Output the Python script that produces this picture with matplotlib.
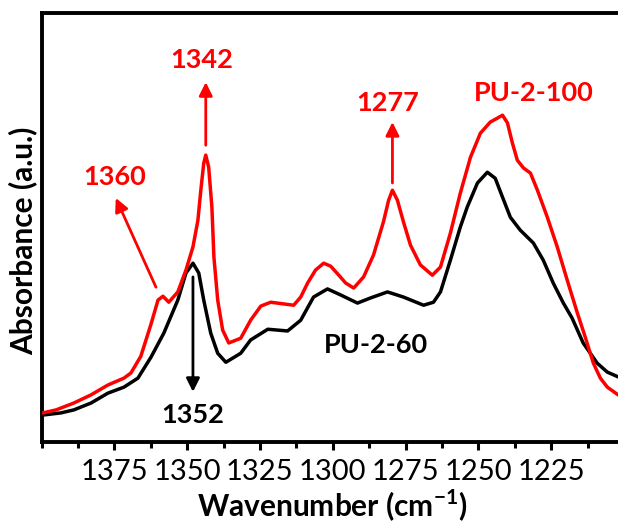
import numpy as np
import matplotlib
matplotlib.use("Agg")
import matplotlib.pyplot as plt
from matplotlib.ticker import MultipleLocator

plt.rcParams["font.family"] = ["Lato", "DejaVu Sans"]
plt.rcParams["mathtext.fontset"] = "custom"
plt.rcParams["mathtext.rm"] = "Lato"
plt.rcParams["mathtext.bf"] = "Lato:bold"

# FTIR spectra, 1400-1200 cm^-1 region (absorbance, arbitrary units)
wn_100 = [1399.5, 1395.0, 1388.9, 1383.0, 1377.2, 1371.7, 1369.3, 1365.9, 1362.4,
          1360.0, 1358.3, 1356.3, 1353.2, 1350.4, 1348.0, 1346.3, 1345.3, 1344.3,
          1343.6, 1342.6, 1341.5, 1340.8, 1339.5, 1337.8, 1335.7, 1331.6, 1328.2,
          1324.7, 1321.3, 1316.8, 1313.4, 1311.0, 1308.6, 1305.9, 1303.1, 1300.7,
          1298.3, 1295.6, 1292.8, 1289.4, 1286.0, 1282.6, 1280.8, 1279.5, 1277.8,
          1275.7, 1273.3, 1269.9, 1265.8, 1263.0, 1259.6, 1256.2, 1252.7, 1249.3,
          1245.9, 1243.5, 1241.7, 1240.0, 1238.3, 1236.6, 1234.5, 1232.1, 1229.7,
          1226.3, 1222.9, 1219.5, 1216.0, 1213.3, 1210.5, 1208.1, 1205.7, 1202.0,
          1200.0]
abs_100 = [0.068, 0.075, 0.091, 0.110, 0.133, 0.149, 0.161, 0.200, 0.275,
           0.331, 0.340, 0.326, 0.350, 0.401, 0.455, 0.517, 0.587, 0.650,
           0.669, 0.641, 0.548, 0.431, 0.331, 0.261, 0.231, 0.242, 0.284,
           0.317, 0.326, 0.322, 0.319, 0.338, 0.371, 0.401, 0.417, 0.410,
           0.392, 0.371, 0.359, 0.385, 0.436, 0.513, 0.564, 0.587, 0.564,
           0.513, 0.459, 0.413, 0.389, 0.408, 0.487, 0.580, 0.664, 0.720,
           0.746, 0.755, 0.762, 0.744, 0.697, 0.657, 0.639, 0.627, 0.587,
           0.524, 0.455, 0.378, 0.301, 0.245, 0.184, 0.149, 0.128, 0.110,
           0.106]

wn_60 = [1399.5, 1393.3, 1388.9, 1383.0, 1377.2, 1371.7, 1366.9, 1362.4, 1358.0,
         1353.2, 1350.4, 1348.0, 1346.0, 1344.3, 1341.9, 1339.5, 1336.7, 1331.6,
         1328.2, 1322.3, 1315.5, 1311.0, 1306.6, 1301.8, 1297.3, 1291.5, 1287.0,
         1281.2, 1275.7, 1268.8, 1265.4, 1263.0, 1259.6, 1256.2, 1253.8, 1250.3,
         1246.9, 1244.2, 1241.7, 1239.0, 1235.6, 1231.1, 1227.7, 1224.3, 1220.8,
         1217.8, 1214.0, 1209.2, 1205.7, 1202.0, 1200.0]
abs_60 = [0.063, 0.068, 0.075, 0.091, 0.114, 0.128, 0.149, 0.198, 0.254,
          0.331, 0.394, 0.417, 0.394, 0.331, 0.254, 0.207, 0.186, 0.207,
          0.238, 0.263, 0.259, 0.284, 0.338, 0.357, 0.343, 0.324, 0.336,
          0.350, 0.338, 0.319, 0.326, 0.350, 0.424, 0.501, 0.548, 0.604,
          0.629, 0.615, 0.571, 0.524, 0.494, 0.464, 0.424, 0.371, 0.324,
          0.289, 0.231, 0.184, 0.163, 0.152, 0.150]

series_names = ["PU-2-100", "PU-2-60"]
series_colors = ["#ff0000", "#000000"]

# Band positions marked on the spectra
band_labels_100 = ["1360", "1342", "1277"]
band_labels_60 = ["1352"]

x_ticks = [1375, 1350, 1325, 1300, 1275, 1250, 1225]

fig = plt.figure(figsize=(6.18, 5.25), dpi=100)
ax = fig.add_axes([0.0672, 0.158, 0.9424, 0.817])

wn_100 = np.asarray(wn_100)
abs_100 = np.asarray(abs_100)
wn_60 = np.asarray(wn_60)
abs_60 = np.asarray(abs_60)

ax.plot(wn_60, abs_60, color=series_colors[1], lw=2.5,
        solid_joinstyle="round", solid_capstyle="round", zorder=2)
ax.plot(wn_100, abs_100, color=series_colors[0], lw=2.5,
        solid_joinstyle="round", solid_capstyle="round", zorder=3)

ax.set_xlim(1400, 1200)
ax.set_ylim(0, 1)


def peak_near(wn, ab, center, half_width=4.0):
    sel = np.abs(wn - center) <= half_width
    idx = np.argmax(np.where(sel, ab, -np.inf))
    return wn[idx], ab[idx]


arrow_kw = dict(arrowstyle="-|>", mutation_scale=20, lw=2.0, shrinkA=0, shrinkB=0)
red = series_colors[0]
black = series_colors[1]
ann_fs = 19.5

# 1360 shoulder: oblique arrow
ax.annotate("", xy=(1374.5, 0.569), xytext=(1360.7, 0.361),
            arrowprops=dict(color=red, **arrow_kw))
ax.text(1374.8, 0.618, band_labels_100[0], color=red, fontsize=ann_fs,
        fontweight="bold", ha="center", va="center")

# 1342 peak
px, py = peak_near(wn_100, abs_100, 1343)
ax.annotate("", xy=(px, 0.839), xytext=(px, 0.692),
            arrowprops=dict(color=red, **arrow_kw))
ax.text(1345.0, 0.890, band_labels_100[1], color=red, fontsize=ann_fs,
        fontweight="bold", ha="center", va="center")

# 1277 peak
px, py = peak_near(wn_100, abs_100, 1279)
ax.annotate("", xy=(px, 0.746), xytext=(px, 0.604),
            arrowprops=dict(color=red, **arrow_kw))
ax.text(1281.2, 0.790, band_labels_100[2], color=red, fontsize=ann_fs,
        fontweight="bold", ha="center", va="center")

# 1352 peak of the lower spectrum, arrow pointing down
px, py = peak_near(wn_60, abs_60, 1349)
ax.annotate("", xy=(px, 0.117), xytext=(px, 0.385),
            arrowprops=dict(color=black, **arrow_kw))
ax.text(1348.0, 0.063, band_labels_60[0], color=black, fontsize=ann_fs,
        fontweight="bold", ha="center", va="center")

# Series labels
ax.text(1231.1, 0.814, series_names[0], color=red, fontsize=ann_fs,
        fontweight="bold", ha="center", va="center")
ax.text(1285.3, 0.226, series_names[1], color=black, fontsize=ann_fs,
        fontweight="bold", ha="center", va="center")

# Axes styling
for side in ["left", "top", "bottom", "right"]:
    ax.spines[side].set_linewidth(2.8)
ax.set_yticks([])
ax.set_xticks(x_ticks)
ax.xaxis.set_minor_locator(MultipleLocator(12.5))
ax.tick_params(axis="x", which="major", direction="out", length=6, width=2.2,
               labelsize=21, pad=6, top=False)
ax.tick_params(axis="x", which="minor", direction="out", length=4, width=2.2, top=False)

ax.set_xlabel("Wavenumber (cm$^{\\mathbf{-1}}$)", fontsize=21.5, fontweight="bold", labelpad=2)
ax.set_ylabel("Absorbance (a.u.)", fontsize=21.5, fontweight="bold")
ax.yaxis.set_label_coords(-0.008, 0.469)

fig.savefig("out.png", dpi=100, facecolor="white")
